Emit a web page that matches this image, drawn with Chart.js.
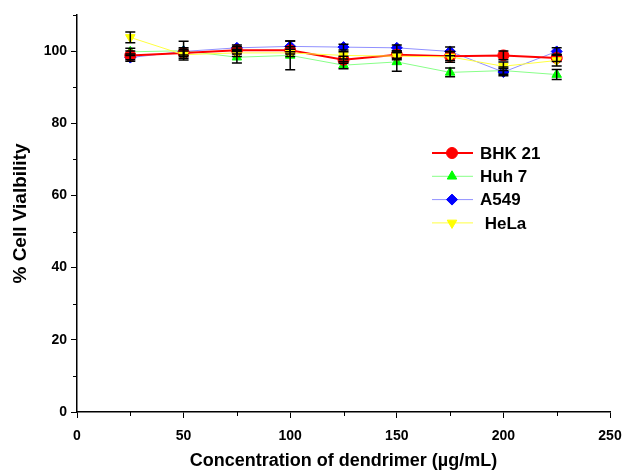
<!DOCTYPE html>
<html>
<head>
<meta charset="utf-8">
<script src="https://cdn.jsdelivr.net/npm/chart.js@4.4.1/dist/chart.umd.min.js"></script>
<style>
  html, body { margin: 0; padding: 0; background: #fff; }
  canvas { display: block; }
</style>
</head>
<body>
<canvas id="c" width="622" height="472"></canvas>
<script>
// ---- data ----
const concentrations = [25, 50, 75, 100, 125, 150, 175, 200, 225];
const bhk21   = [98.8, 99.5, 100.2, 100.2, 97.6, 99.0, 98.6, 98.8, 98.1];
const bhk21Err = [1.2, 1.0, 1.0, 1.0, 1.0, 1.0, 1.2, 1.2, 1.0];
const huh7    = [99.8, 100.1, 98.3, 98.8, 96.1, 97.0, 94.1, 94.6, 93.5];
const huh7Err = [1.0, 2.6, 1.6, 4.0, 1.0, 2.6, 1.2, 1.0, 1.4];
const a549    = [98.2, 99.9, 100.9, 101.3, 101.1, 100.9, 99.9, 94.2, 99.9];
const a549Err = [1.0, 1.0, 0.8, 1.5, 0.8, 0.8, 1.2, 1.0, 1.0];
const hela    = [103.8, 99.0, 99.5, 99.5, 98.8, 98.6, 98.4, 95.8, 97.4];
const helaErr = [1.5, 1.0, 1.0, 1.0, 1.0, 1.0, 1.5, 1.2, 1.5];
const seriesNames = ['BHK 21', 'Huh 7', 'A549', ' HeLa'];
const xMinorTicks = [25, 75, 125, 175, 225];
const yMinorTicks = [10, 30, 50, 70, 90, 110];

const FONT = '"Liberation Sans", Arial, Helvetica, sans-serif';

function pts(ys) { return concentrations.map((x, i) => ({ x: x, y: ys[i] })); }

const errors = [bhk21Err, huh7Err, a549Err, helaErr];

const errorBarPlugin = {
  id: 'errorBars',
  afterDatasetsDraw(chart) {
    const ctx = chart.ctx;
    const xs = chart.scales.x, ys = chart.scales.y;
    ctx.save();
    ctx.strokeStyle = '#000';
    ctx.lineWidth = 1.5;
    chart.data.datasets.forEach((ds, di) => {
      const errs = errors[di];
      ds.data.forEach((p, i) => {
        const px = xs.getPixelForValue(p.x);
        const top = ys.getPixelForValue(p.y + errs[i]);
        const bot = ys.getPixelForValue(p.y - errs[i]);
        ctx.beginPath();
        ctx.moveTo(px, top); ctx.lineTo(px, bot);
        ctx.moveTo(px - 5, top); ctx.lineTo(px + 5, top);
        ctx.moveTo(px - 5, bot); ctx.lineTo(px + 5, bot);
        ctx.stroke();
      });
    });
    ctx.restore();
  }
};

const minorTickPlugin = {
  id: 'minorTicks',
  afterDraw(chart) {
    const ctx = chart.ctx;
    const xs = chart.scales.x, ys = chart.scales.y;
    const ca = chart.chartArea;
    ctx.save();
    ctx.strokeStyle = '#000';
    ctx.lineWidth = 1;
    ctx.beginPath();
    xMinorTicks.forEach(v => {
      const px = Math.round(xs.getPixelForValue(v)) + 0.5;
      ctx.moveTo(px, ca.bottom); ctx.lineTo(px, ca.bottom + 4);
    });
    yMinorTicks.forEach(v => {
      const py = Math.round(ys.getPixelForValue(v)) + 0.5;
      ctx.moveTo(ca.left, py); ctx.lineTo(ca.left - 4, py);
    });
    ctx.stroke();
    ctx.restore();
  }
};

const legendPlugin = {
  id: 'customLegend',
  afterDraw(chart) {
    const ctx = chart.ctx;
    ctx.save();
    chart.data.datasets.forEach((ds, i) => {
      const y = 153 + i * 23.3;
      ctx.strokeStyle = ds.borderColor;
      ctx.lineWidth = ds.borderWidth;
      ctx.beginPath();
      ctx.moveTo(432, y); ctx.lineTo(473, y);
      ctx.stroke();
      ctx.fillStyle = ds.pointBackgroundColor;
      ctx.strokeStyle = ds.pointBackgroundColor;
      ctx.lineWidth = 1;
      Chart.helpers.drawPoint(ctx, {
        pointStyle: ds.pointStyle,
        radius: ds.pointRadius,
        rotation: ds.pointRotation || 0,
        borderWidth: 1
      }, 452, y);
      ctx.fillStyle = '#000';
      ctx.font = 'bold 17px ' + FONT;
      ctx.textBaseline = 'middle';
      ctx.textAlign = 'left';
      ctx.fillText(ds.label, 480, y + 1);
    });
    ctx.restore();
  }
};

const datasets = [
  { label: seriesNames[0], data: pts(bhk21), borderColor: '#ff0000', borderWidth: 2,
    pointStyle: 'circle', pointRadius: 5.5, pointBackgroundColor: '#ff0000', pointBorderColor: '#ff0000', pointBorderWidth: 1, order: 1 },
  { label: seriesNames[1], data: pts(huh7), borderColor: '#88ff88', borderWidth: 1,
    pointStyle: 'triangle', pointRadius: 5.5, pointBackgroundColor: '#00ff00', pointBorderColor: '#00ff00', pointBorderWidth: 1, order: 3 },
  { label: seriesNames[2], data: pts(a549), borderColor: '#9090ff', borderWidth: 1,
    pointStyle: 'rectRot', pointRadius: 5.5, pointBackgroundColor: '#0000ff', pointBorderColor: '#0000ff', pointBorderWidth: 1, order: 2 },
  { label: seriesNames[3], data: pts(hela), borderColor: '#ffff40', borderWidth: 1,
    pointStyle: 'triangle', pointRotation: 180, pointRadius: 5.5, pointBackgroundColor: '#ffff00', pointBorderColor: '#ffff00', pointBorderWidth: 1, order: 0 }
];

new Chart(document.getElementById('c'), {
  type: 'line',
  data: { datasets: datasets },
  options: {
    responsive: false,
    animation: false,
    layout: { padding: { top: 15, right: 0, left: 0, bottom: 0 } },
    plugins: { legend: { display: false }, tooltip: { enabled: false } },
    elements: { line: { tension: 0 } },
    scales: {
      x: {
        type: 'linear', min: 0, max: 250,
        ticks: { stepSize: 50, color: '#000', padding: 10, font: { family: FONT, size: 14, weight: 'bold' }, maxRotation: 0 },
        grid: { drawOnChartArea: false, drawTicks: true, tickLength: 6, tickColor: '#000', tickWidth: 1 },
        border: { color: '#000', width: 1.5 },
        title: { display: true, text: 'Concentration of dendrimer (\u00b5g/mL)', color: '#000',
                 font: { family: FONT, size: 18, weight: 'bold' }, padding: { top: 0, bottom: 0 } },
        afterFit(s) { s.height = 60; s.paddingRight = 12; s.paddingLeft = 0; }
      },
      y: {
        type: 'linear', min: 0, max: 110,
        ticks: { stepSize: 20, includeBounds: false, color: '#000', padding: 4, font: { family: FONT, size: 14, weight: 'bold' } },
        grid: { drawOnChartArea: false, drawTicks: true, tickLength: 6, tickColor: '#000', tickWidth: 1 },
        border: { color: '#000', width: 1.5 },
        title: { display: true, text: '% Cell Vialbility', color: '#000',
                 font: { family: FONT, size: 19, weight: 'bold' }, padding: { top: 9, bottom: 0 } },
        afterFit(s) { s.width = 77; s.paddingTop = 0; s.paddingBottom = 0; }
      }
    }
  },
  plugins: [errorBarPlugin, minorTickPlugin, legendPlugin]
});
</script>
</body>
</html>
